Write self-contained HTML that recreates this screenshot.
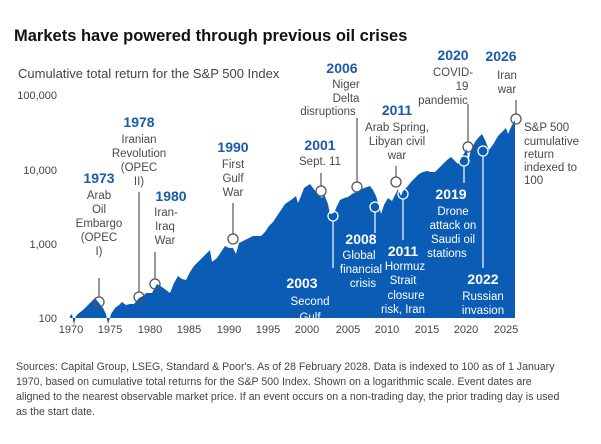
<!DOCTYPE html>
<html><head><meta charset="utf-8"><style>
body{margin:0;background:#fff;width:601px;height:439px;overflow:hidden;font-family:"Liberation Sans",sans-serif}
svg text{font-family:"Liberation Sans",sans-serif}
.y{font-size:11px;fill:#444;text-anchor:end}
.x{font-size:11px;fill:#444;text-anchor:middle}
.b{font-size:14px;font-weight:bold;fill:#1a5aad;text-anchor:middle}
.g{font-size:11.5px;fill:#4a4a4a;text-anchor:middle}
.bw{font-size:14px;font-weight:bold;fill:#fff;text-anchor:middle}
.w{font-size:11.5px;fill:#fff;text-anchor:middle}
.ln{stroke:#555;stroke-width:1.2;fill:none}
.lw{stroke:#fff;stroke-width:1.2;fill:none}
.c{fill:none;stroke:#555;stroke-width:1.3}
.cw{fill:none;stroke:#fff;stroke-width:1.3}
</style></head><body>
<svg width="601" height="439" viewBox="0 0 601 439">
<text x="14" y="41" font-size="16.5" font-weight="bold" fill="#111">Markets have powered through previous oil crises</text>
<text x="18" y="78" font-size="13" fill="#444">Cumulative total return for the S&amp;P 500 Index</text>
<text class="y" x="57" y="99">100,000</text>
<text class="y" x="57" y="174">10,000</text>
<text class="y" x="57" y="248">1,000</text>
<text class="y" x="57" y="322">100</text>
<defs><clipPath id="cp"><rect x="0" y="0" width="601" height="318"/></clipPath></defs>
<path fill="#0b5cb4" fill-rule="nonzero" d="M70,318 L70,316 L72,314 L74,325 L76,316 L79,313 L83,310 L87,306 L91,302 L95,298 L99,303 L103,308 L106,314 L108,324 L110,318 L111,314 L115,308 L119,305 L122,302 L126,305 L130,304 L134,304 L139,298 L143,296 L146,293 L152,293 L157,284 L162,287 L166,290 L170,293 L174,283 L178,276 L182,279 L186,280 L190,272 L194,266 L198,262 L204,256 L210,250 L212,262 L217,258 L221,252 L225,246 L229,248 L233,248 L236,254 L239,243 L245,240 L253,236 L261,236 L265,232 L269,226 L273,222 L277,216 L281,210 L285,204 L291,200 L296,196 L298,203 L301,196 L304,188 L310,184 L316,192 L322,198 L324,194 L328,204 L330,214 L334,213 L337,206 L340,200 L344,198 L348,197 L352,194 L356,192 L360,190 L364,188 L370,186 L373,190 L376,196 L379,206 L381,214 L384,205 L388,198 L392,201 L395,195 L398,189 L401,196 L403,191 L407,187 L411,182 L415,178 L419,174 L423,172 L427,171 L431,172 L435,172 L439,168 L443,164 L447,160 L451,157 L454,160 L458,164 L463,155 L467,149 L468,162 L471,150 L475,142 L478,138 L482,134 L485,140 L489,150 L492,146 L494,143 L498,136 L502,132 L506,128 L508,134 L511,127 L515,120 L515,318 Z"/>
<g clip-path="url(#cp)">
<text class="bw" x="302" y="288">2003</text>
<text class="w" x="310" y="305">Second</text>
<text class="w" x="310" y="321">Gulf</text>
</g>
<g class="x"><text x="71" y="333">1970</text><text x="110" y="333">1975</text><text x="150" y="333">1980</text><text x="189" y="333">1985</text><text x="229" y="333">1990</text><text x="268" y="333">1995</text><text x="307" y="333">2000</text><text x="348" y="333">2005</text><text x="387" y="333">2010</text><text x="427" y="333">2015</text><text x="466" y="333">2020</text><text x="506" y="333">2025</text></g>
<line class="ln" x1="99" y1="278" x2="99" y2="297"/><circle class="c" cx="99" cy="302" r="5"/>
<text class="b" x="99" y="183">1973</text><text class="g" x="99" y="199">Arab</text><text class="g" x="99" y="213">Oil</text><text class="g" x="99" y="227">Embargo</text><text class="g" x="99" y="241">(OPEC</text><text class="g" x="99" y="255">I)</text>
<line class="ln" x1="139" y1="192" x2="139" y2="292"/><circle class="c" cx="139" cy="297" r="5"/>
<text class="b" x="139" y="127">1978</text><text class="g" x="139" y="143">Iranian</text><text class="g" x="139" y="157">Revolution</text><text class="g" x="139" y="171">(OPEC</text><text class="g" x="139" y="185">II)</text>
<line class="ln" x1="155" y1="252" x2="155" y2="279"/><circle class="c" cx="155" cy="284" r="5"/>
<text class="b" x="171" y="201">1980</text><text class="g" x="166" y="216">Iran-</text><text class="g" x="165" y="230">Iraq</text><text class="g" x="165" y="244">War</text>
<line class="ln" x1="233" y1="203" x2="233" y2="234"/><circle class="c" cx="233" cy="239" r="5"/>
<text class="b" x="233" y="152">1990</text><text class="g" x="233" y="168">First</text><text class="g" x="233" y="182">Gulf</text><text class="g" x="233" y="196">War</text>
<line class="ln" x1="321" y1="173" x2="321" y2="186"/><circle class="c" cx="321" cy="191" r="5"/>
<text class="b" x="320" y="150">2001</text><text class="g" x="320" y="165">Sept. 11</text>
<line class="ln" x1="357" y1="118" x2="357" y2="182"/><circle class="c" cx="357" cy="187" r="5"/>
<text class="b" x="342" y="73">2006</text><text class="g" x="346" y="88">Niger</text><text class="g" x="346" y="102">Delta</text><text class="g" x="328" y="115">disruptions</text>
<line class="ln" x1="396" y1="166" x2="396" y2="177"/><circle class="c" cx="396" cy="182" r="5"/>
<text class="b" x="397" y="115">2011</text><text class="g" x="397" y="131">Arab Spring,</text><text class="g" x="397" y="145">Libyan civil</text><text class="g" x="397" y="159">war</text>
<line class="ln" x1="468" y1="104" x2="468" y2="142"/><circle class="c" cx="468" cy="147" r="5"/>
<text class="b" x="453" y="60">2020</text><text class="g" x="453" y="76">COVID-</text><text class="g" x="462" y="90">19</text><text class="g" x="443" y="104">pandemic</text>
<line class="ln" x1="516" y1="100" x2="516" y2="114"/><circle class="c" cx="516" cy="119" r="5"/>
<text class="b" x="501" y="61">2026</text><text class="g" x="507" y="79">Iran</text><text class="g" x="507" y="93">war</text>
<g font-size="11.5" fill="#4a4a4a"><text x="524" y="131">S&amp;P 500</text><text x="524" y="145">cumulative</text><text x="524" y="158">return</text><text x="524" y="171">indexed to</text><text x="524" y="184">100</text></g>
<line class="lw" x1="333" y1="221" x2="333" y2="268"/><circle class="cw" cx="333" cy="216" r="5"/>
<line class="lw" x1="375" y1="212" x2="375" y2="233"/><circle class="cw" cx="375" cy="207" r="5"/>
<text class="bw" x="361" y="244">2008</text><text class="w" x="359" y="259">Global</text><text class="w" x="361" y="273">financial</text><text class="w" x="363" y="287">crisis</text>
<line class="lw" x1="403" y1="199" x2="403" y2="240"/><circle class="cw" cx="403" cy="194" r="5"/>
<text class="bw" x="403" y="256">2011</text><text class="w" x="405" y="270">Hormuz</text><text class="w" x="403" y="284">Strait</text><text class="w" x="406" y="299">closure</text><text class="w" x="403" y="313">risk, Iran</text>
<line class="lw" x1="464" y1="166" x2="464" y2="183"/><circle class="cw" cx="464" cy="161" r="5"/>
<text class="bw" x="451" y="199">2019</text><text class="w" x="453" y="215">Drone</text><text class="w" x="453" y="229">attack on</text><text class="w" x="453" y="243">Saudi oil</text><text class="w" x="447" y="257">stations</text>
<line class="lw" x1="483" y1="156" x2="483" y2="268"/><circle class="cw" cx="483" cy="151" r="5"/>
<text class="bw" x="483" y="284">2022</text><text class="w" x="483" y="300">Russian</text><text class="w" x="483" y="314">invasion</text>
<g font-size="10.6" fill="#444"><text x="16" y="370">Sources: Capital Group, LSEG, Standard &amp; Poor's. As of 28 February 2028. Data is indexed to 100 as of 1 January</text><text x="16" y="385">1970, based on cumulative total returns for the S&amp;P 500 Index. Shown on a logarithmic scale. Event dates are</text><text x="16" y="400">aligned to the nearest observable market price. If an event occurs on a non-trading day, the prior trading day is used</text><text x="16" y="415">as the start date.</text></g>
</svg>
</body></html>
